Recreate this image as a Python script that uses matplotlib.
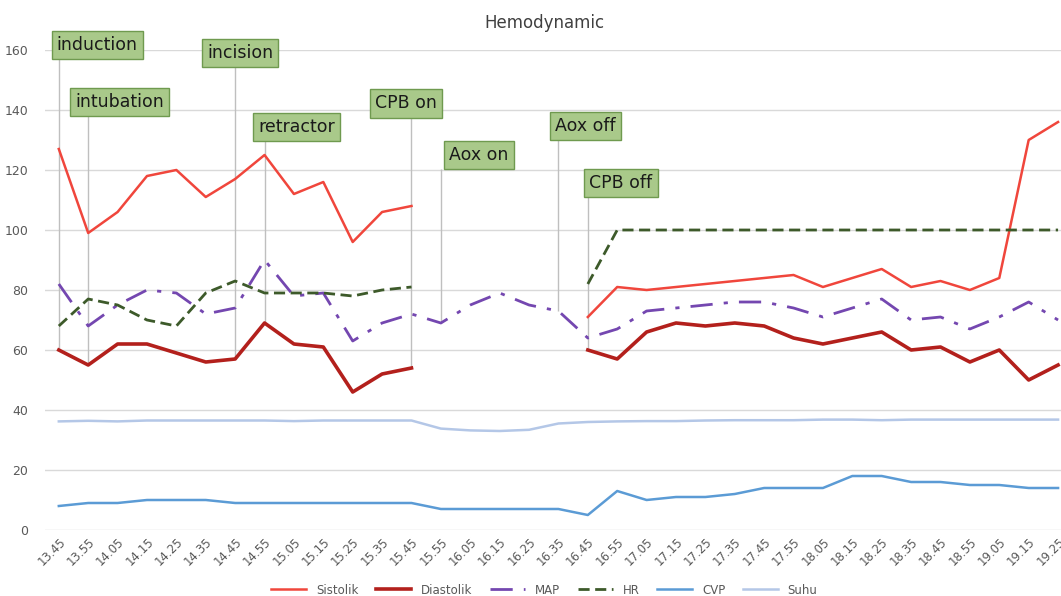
import numpy as np
import matplotlib.pyplot as plt

nan = np.nan
times = ["13.45", "13.55", "14.05", "14.15", "14.25", "14.35", "14.45", "14.55",
         "15.05", "15.15", "15.25", "15.35", "15.45", "15.55", "16.05", "16.15",
         "16.25", "16.35", "16.45", "16.55", "17.05", "17.15", "17.25", "17.35",
         "17.45", "17.55", "18.05", "18.15", "18.25", "18.35", "18.45", "18.55",
         "19.05", "19.15", "19.25"]

sistolik = [127, 99, 106, 118, 120, 111, 117, 125, 112, 116, 96, 106, 108,
            nan, nan, nan, nan, nan,
            71, 81, 80, 81, 82, 83, 84, 85, 81, 84, 87, 81, 83, 80, 84, 130, 136]
diastolik = [60, 55, 62, 62, 59, 56, 57, 69, 62, 61, 46, 52, 54,
             nan, nan, nan, nan, nan,
             60, 57, 66, 69, 68, 69, 68, 64, 62, 64, 66, 60, 61, 56, 60, 50, 55]
map_ = [82, 68, 75, 80, 79, 72, 74, 90, 78, 79, 63, 69, 72, 69, 75, 79, 75, 73,
        64, 67, 73, 74, 75, 76, 76, 74, 71, 74, 77, 70, 71, 67, 71, 76, 70]
hr = [68, 77, 75, 70, 68, 79, 83, 79, 79, 79, 78, 80, 81,
      nan, nan, nan, nan, nan,
      82, 100, 100, 100, 100, 100, 100, 100, 100, 100, 100, 100, 100, 100, 100, 100, 100]
cvp = [8, 9, 9, 10, 10, 10, 9, 9, 9, 9, 9, 9, 9, 7, 7, 7, 7, 7,
       5, 13, 10, 11, 11, 12, 14, 14, 14, 18, 18, 16, 16, 15, 15, 14, 14]
suhu = [36.2, 36.4, 36.2, 36.5, 36.5, 36.5, 36.5, 36.5, 36.3, 36.5, 36.5, 36.5, 36.5,
        33.8, 33.2, 33.0, 33.4, 35.5, 36.0, 36.2, 36.3, 36.3, 36.5, 36.6, 36.6, 36.6,
        36.8, 36.8, 36.6, 36.8, 36.8, 36.8, 36.8, 36.8, 36.8]

events = ["induction", "intubation", "incision", "retractor",
          "CPB on", "Aox on", "Aox off", "CPB off"]
event_times = ["13.45", "13.55", "14.45", "14.55", "15.45", "15.55", "16.35", "16.45"]
# box centres (x in category units, y in data units)
box_pos = [(1.31, 161.7), (2.07, 142.7), (6.17, 159.0), (8.08, 134.3),
           (11.82, 142.2), (14.29, 125.0), (17.91, 134.7), (19.12, 115.7)]

x = np.arange(len(times))

fig = plt.figure(figsize=(10.61, 5.96), dpi=100)
ax = fig.add_axes([45 / 1061, 66 / 596, 1016 / 1061, 480 / 596])

ax.plot(x, sistolik, color="#f0463c", lw=1.8, label="Sistolik")
ax.plot(x, diastolik, color="#b3201c", lw=2.6, label="Diastolik")
ax.plot(x, map_, color="#7447b0", lw=2.0, ls=(0, (8, 4, 1.5, 4)), label="MAP")
ax.plot(x, hr, color="#3d5a2a", lw=2.0, ls=(0, (4, 2)), label="HR")
ax.plot(x, cvp, color="#5b9bd5", lw=1.8, label="CVP")
ax.plot(x, suhu, color="#b4c7e7", lw=1.8, label="Suhu")

ax.set_xlim(-0.47, 34.1)
ax.set_ylim(0, 160)

series = np.array([sistolik, diastolik, map_, hr], dtype=float)
labels = []
for name, (bx, by) in zip(events, box_pos):
    t = ax.text(bx, by, name, ha="center", va="center", fontsize=12.5,
                color="#1a1a1a", clip_on=False, zorder=5,
                bbox=dict(boxstyle="square,pad=0.3", fc="#a9c98a", ec="#6f9a4f", lw=1))
    labels.append(t)

fig.canvas.draw()
inv = ax.transData.inverted()
for t, tm in zip(labels, event_times):
    i = times.index(tm)
    low = np.nanmin(series[:, i])
    ext = t.get_bbox_patch().get_window_extent()
    top = inv.transform((0, ext.y0))[1]
    ax.vlines(i, low, top, color="#bfbfbf", lw=1, zorder=1, clip_on=False)

ax.set_yticks(range(0, 161, 20))
ax.set_xticks(x)
ax.set_xticklabels(times, rotation=45, ha="right", rotation_mode="anchor",
                   fontsize=8.5, color="#595959")
ax.tick_params(axis="y", labelsize=9, colors="#595959", length=0, pad=12)
ax.tick_params(axis="x", length=0, pad=4)
ax.grid(axis="y", color="#d9d9d9", lw=1)
ax.set_axisbelow(True)
for s in ax.spines.values():
    s.set_visible(False)

fig.text(0.513, 0.962, "Hemodynamic", ha="center", va="center", fontsize=12, color="#404040")
fig.legend(loc="center", bbox_to_anchor=(0.513, 0.01), ncol=6, frameon=False,
           fontsize=8.5, labelcolor="#595959", handlelength=3, columnspacing=1.5)

fig.savefig("out.png", dpi=100)
